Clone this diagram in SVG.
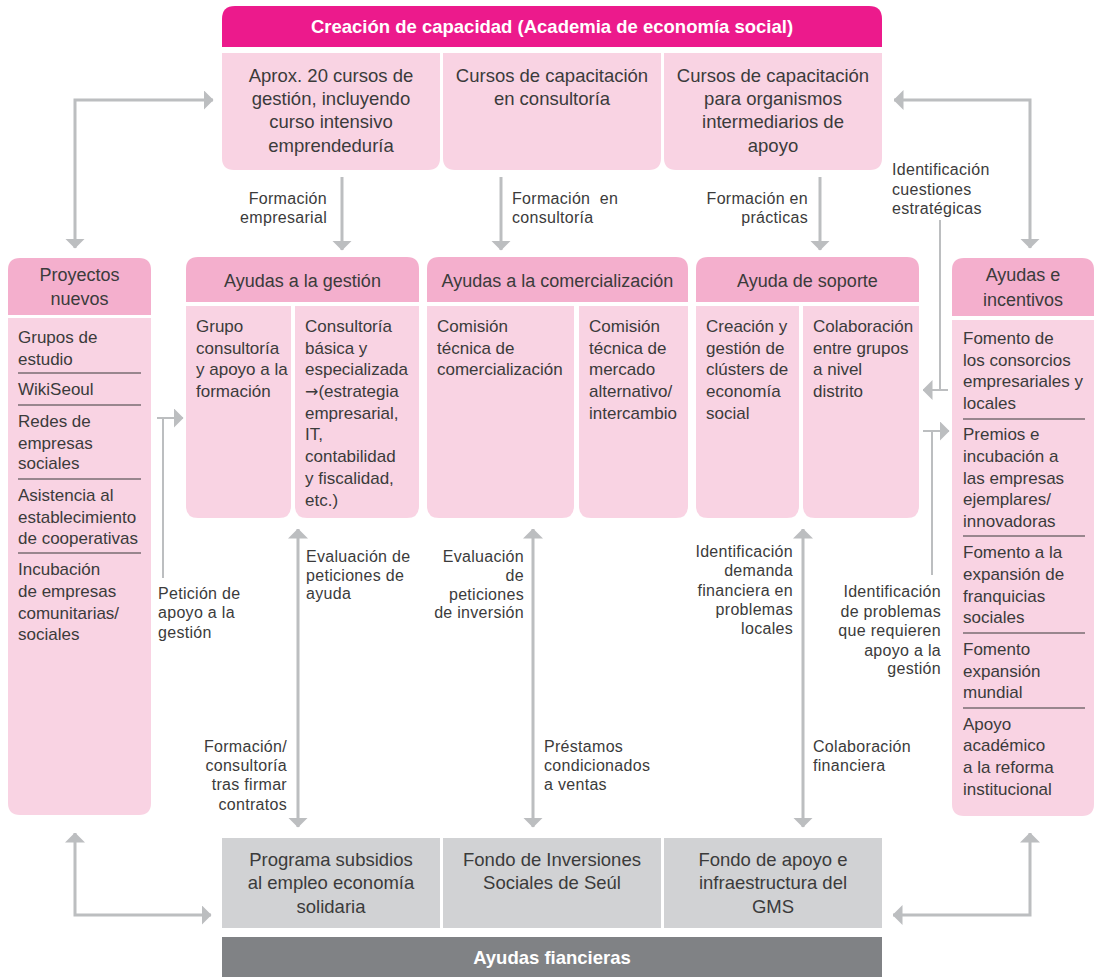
<svg xmlns="http://www.w3.org/2000/svg" width="1095" height="977" viewBox="0 0 1095 977">
<defs>
<marker id="ah" viewBox="0 0 10 20" refX="9.5" refY="10" markerWidth="10" markerHeight="20" markerUnits="userSpaceOnUse" orient="auto-start-reverse"><path d="M0,0 L10,10 L0,20 Z" fill="#BCBEC0"/></marker>
</defs>
<style>
text{font-family:"Liberation Sans",Arial,sans-serif;fill:#3b3b3b}
.t18{font-size:18.5px;text-anchor:middle}
.h18{font-size:18px;text-anchor:middle}
.t17{font-size:17px}
.lb{font-size:16px;letter-spacing:0.3px}
.r{text-anchor:end}
.hw{font-size:18.5px;font-weight:bold;fill:#fff;text-anchor:middle}
.ar{font-family:"DejaVu Sans",sans-serif;font-size:16px}
.mg{fill:#EC1A8C}
.lp{fill:#F9D3E3}
.mp{fill:#F4AFCD}
.gr{fill:#D1D2D4}
.dg{fill:#808285}
.sep{stroke:#3b3b3b;stroke-width:1.2}
.cn{fill:none;stroke:#BCBEC0;stroke-width:3}
.cn2{fill:none;stroke:#BCBEC0;stroke-width:2}
</style>

<g id="connectors">
<line class="cn" x1="342" y1="177" x2="342" y2="250" marker-end="url(#ah)"/>
<line class="cn" x1="501" y1="177" x2="501" y2="250" marker-end="url(#ah)"/>
<line class="cn" x1="820" y1="177" x2="820" y2="250" marker-end="url(#ah)"/>
<line class="cn" x1="298" y1="529" x2="298" y2="827" marker-start="url(#ah)" marker-end="url(#ah)"/>
<line class="cn" x1="533" y1="529" x2="533" y2="827" marker-start="url(#ah)" marker-end="url(#ah)"/>
<line class="cn" x1="803" y1="529" x2="803" y2="827" marker-start="url(#ah)" marker-end="url(#ah)"/>
<path class="cn" d="M213,100 H75 V248" marker-start="url(#ah)" marker-end="url(#ah)"/>
<path class="cn" d="M894,100 H1030 V248" marker-start="url(#ah)" marker-end="url(#ah)"/>
<path class="cn" d="M75,833 V915 H211" marker-start="url(#ah)" marker-end="url(#ah)"/>
<path class="cn" d="M1030,833 V915 H893" marker-start="url(#ah)" marker-end="url(#ah)"/>
<line class="cn2" x1="163" y1="578" x2="163" y2="418"/>
<line class="cn2" x1="157" y1="418" x2="183" y2="418" marker-end="url(#ah)"/>
<line class="cn2" x1="940" y1="220" x2="940" y2="390"/>
<line class="cn2" x1="948" y1="390" x2="923" y2="390" marker-end="url(#ah)"/>
<line class="cn2" x1="932" y1="575" x2="932" y2="431"/>
<line class="cn2" x1="923" y1="431" x2="949" y2="431" marker-end="url(#ah)"/>
</g>

<g id="capacity-header">
<path class="mg" d="M222,47 V19 Q222,6 235,6 H869 Q882,6 882,19 V47 Z"/>
<text class="hw" x="552" y="33">Creación de capacidad (Academia de economía social)</text>
</g>
<g id="course-management">
<path class="lp" d="M222,53 H440 V158 Q440,170 428,170 H234 Q222,170 222,158 Z"/>
<text class="t18"><tspan x="331" y="82">Aprox. 20 cursos de</tspan><tspan x="331" y="105">gestión, incluyendo</tspan><tspan x="331" y="128">curso intensivo</tspan><tspan x="331" y="152">emprendeduría</tspan></text>
</g>
<g id="course-consulting">
<path class="lp" d="M443,53 H661 V158 Q661,170 649,170 H455 Q443,170 443,158 Z"/>
<text class="t18"><tspan x="552" y="82">Cursos de capacitación</tspan><tspan x="552" y="105">en consultoría</tspan></text>
</g>
<g id="course-intermediaries">
<path class="lp" d="M664,53 H882 V158 Q882,170 870,170 H676 Q664,170 664,158 Z"/>
<text class="t18"><tspan x="773" y="82">Cursos de capacitación</tspan><tspan x="773" y="105">para organismos</tspan><tspan x="773" y="128">intermediarios de</tspan><tspan x="773" y="152">apoyo</tspan></text>
</g>

<g id="proyectos-nuevos">
<path class="mp" d="M8,315 V270 Q8,258 20,258 H139 Q151,258 151,270 V315 Z"/>
<text class="h18"><tspan x="79.5" y="281">Proyectos</tspan><tspan x="79.5" y="305">nuevos</tspan></text>
<path class="lp" d="M8,318 H151 V803 Q151,815 139,815 H20 Q8,815 8,803 Z"/>
<text class="t17"><tspan x="18" y="343">Grupos de</tspan><tspan x="18" y="365">estudio</tspan><tspan x="18" y="395">WikiSeoul</tspan><tspan x="18" y="427">Redes de</tspan><tspan x="18" y="449">empresas</tspan><tspan x="18" y="469">sociales</tspan><tspan x="18" y="501">Asistencia al</tspan><tspan x="18" y="523">establecimiento</tspan><tspan x="18" y="544">de cooperativas</tspan><tspan x="18" y="575">Incubación</tspan><tspan x="18" y="597">de empresas</tspan><tspan x="18" y="619">comunitarias/</tspan><tspan x="18" y="640">sociales</tspan></text>
<line class="sep" x1="18" y1="373" x2="141" y2="373"/>
<line class="sep" x1="18" y1="405" x2="141" y2="405"/>
<line class="sep" x1="18" y1="479" x2="141" y2="479"/>
<line class="sep" x1="18" y1="553" x2="141" y2="553"/>
</g>

<g id="ayudas-gestion">
<path class="mp" d="M186,302 V269 Q186,257 198,257 H407 Q419,257 419,269 V302 Z"/>
<text class="h18" x="302.5" y="287">Ayudas a la gestión</text>
<path class="lp" d="M186,306 H291 V506 Q291,518 279,518 H198 Q186,518 186,506 Z"/>
<path class="lp" d="M295,306 H419 V506 Q419,518 407,518 H307 Q295,518 295,506 Z"/>
<text class="t17"><tspan x="196" y="332">Grupo</tspan><tspan x="196" y="354">consultoría</tspan><tspan x="196" y="375">y apoyo a la</tspan><tspan x="196" y="397">formación</tspan></text>
<text class="t17"><tspan x="305" y="332">Consultoría</tspan><tspan x="305" y="354">básica y</tspan><tspan x="305" y="375">especializada</tspan><tspan x="305" y="397"><tspan class="ar">→</tspan>(estrategia</tspan><tspan x="305" y="419">empresarial,</tspan><tspan x="305" y="440">IT,</tspan><tspan x="305" y="462">contabilidad</tspan><tspan x="305" y="484">y fiscalidad,</tspan><tspan x="305" y="506">etc.)</tspan></text>
</g>

<g id="ayudas-comercializacion">
<path class="mp" d="M427,302 V269 Q427,257 439,257 H676 Q688,257 688,269 V302 Z"/>
<text class="h18" x="557.5" y="287">Ayudas a la comercialización</text>
<path class="lp" d="M427,306 H574 V506 Q574,518 562,518 H439 Q427,518 427,506 Z"/>
<path class="lp" d="M579,306 H688 V506 Q688,518 676,518 H591 Q579,518 579,506 Z"/>
<text class="t17"><tspan x="437" y="332">Comisión</tspan><tspan x="437" y="354">técnica de</tspan><tspan x="437" y="375">comercialización</tspan></text>
<text class="t17"><tspan x="589" y="332">Comisión</tspan><tspan x="589" y="354">técnica de</tspan><tspan x="589" y="375">mercado</tspan><tspan x="589" y="397">alternativo/</tspan><tspan x="589" y="419">intercambio</tspan></text>
</g>

<g id="ayuda-soporte">
<path class="mp" d="M696,302 V269 Q696,257 708,257 H907 Q919,257 919,269 V302 Z"/>
<text class="h18" x="807.5" y="287">Ayuda de soporte</text>
<path class="lp" d="M696,306 H799 V506 Q799,518 787,518 H708 Q696,518 696,506 Z"/>
<path class="lp" d="M803,306 H919 V506 Q919,518 907,518 H815 Q803,518 803,506 Z"/>
<text class="t17"><tspan x="706" y="332">Creación y</tspan><tspan x="706" y="354">gestión de</tspan><tspan x="706" y="375">clústers de</tspan><tspan x="706" y="397">economía</tspan><tspan x="706" y="419">social</tspan></text>
<text class="t17"><tspan x="813" y="332">Colaboración</tspan><tspan x="813" y="354">entre grupos</tspan><tspan x="813" y="375">a nivel</tspan><tspan x="813" y="397">distrito</tspan></text>
</g>

<g id="ayudas-incentivos">
<path class="mp" d="M952,316 V270 Q952,258 964,258 H1082 Q1094,258 1094,270 V316 Z"/>
<text class="h18"><tspan x="1023" y="281">Ayudas e</tspan><tspan x="1023" y="306">incentivos</tspan></text>
<path class="lp" d="M952,320 H1094 V804 Q1094,816 1082,816 H964 Q952,816 952,804 Z"/>
<text class="t17"><tspan x="963" y="344">Fomento de</tspan><tspan x="963" y="366">los consorcios</tspan><tspan x="963" y="387">empresariales y</tspan><tspan x="963" y="409">locales</tspan><tspan x="963" y="440">Premios e</tspan><tspan x="963" y="462">incubación a</tspan><tspan x="963" y="484">las empresas</tspan><tspan x="963" y="505">ejemplares/</tspan><tspan x="963" y="527">innovadoras</tspan><tspan x="963" y="558">Fomento a la</tspan><tspan x="963" y="580">expansión de</tspan><tspan x="963" y="602">franquicias</tspan><tspan x="963" y="623">sociales</tspan><tspan x="963" y="655">Fomento</tspan><tspan x="963" y="677">expansión</tspan><tspan x="963" y="698">mundial</tspan><tspan x="963" y="730">Apoyo</tspan><tspan x="963" y="751">académico</tspan><tspan x="963" y="773">a la reforma</tspan><tspan x="963" y="795">institucional</tspan></text>
<line class="sep" x1="963" y1="419" x2="1085" y2="419"/>
<line class="sep" x1="963" y1="536" x2="1085" y2="536"/>
<line class="sep" x1="963" y1="633" x2="1085" y2="633"/>
<line class="sep" x1="963" y1="708" x2="1085" y2="708"/>
</g>

<g id="fund-subsidies">
<rect class="gr" x="222" y="838" width="218" height="90"/>
<text class="t18"><tspan x="331" y="866">Programa subsidios</tspan><tspan x="331" y="889">al empleo economía</tspan><tspan x="331" y="913">solidaria</tspan></text>
</g>
<g id="fund-investment">
<rect class="gr" x="443" y="838" width="218" height="90"/>
<text class="t18"><tspan x="552" y="866">Fondo de Inversiones</tspan><tspan x="552" y="889">Sociales de Seúl</tspan></text>
</g>
<g id="fund-infrastructure">
<rect class="gr" x="664" y="838" width="218" height="90"/>
<text class="t18"><tspan x="773" y="866">Fondo de apoyo e</tspan><tspan x="773" y="889">infraestructura del</tspan><tspan x="773" y="913">GMS</tspan></text>
</g>
<g id="financial-header">
<rect class="dg" x="222" y="937" width="660" height="40"/>
<text class="hw" x="552" y="964">Ayudas fiancieras</text>
</g>

<g id="labels">
<text class="lb r"><tspan x="327" y="204">Formación</tspan><tspan x="327" y="223">empresarial</tspan></text>
<text class="lb" xml:space="preserve"><tspan x="512" y="204">Formación  en</tspan><tspan x="512" y="223">consultoría</tspan></text>
<text class="lb r"><tspan x="808" y="204">Formación en</tspan><tspan x="808" y="223">prácticas</tspan></text>
<text class="lb"><tspan x="892" y="175">Identificación</tspan><tspan x="892" y="195">cuestiones</tspan><tspan x="892" y="214">estratégicas</tspan></text>
<text class="lb"><tspan x="158" y="599">Petición de</tspan><tspan x="158" y="618">apoyo a la</tspan><tspan x="158" y="638">gestión</tspan></text>
<text class="lb"><tspan x="306" y="562">Evaluación de</tspan><tspan x="306" y="581">peticiones de</tspan><tspan x="306" y="599">ayuda</tspan></text>
<text class="lb r"><tspan x="287" y="752">Formación/</tspan><tspan x="287" y="771">consultoría</tspan><tspan x="287" y="790">tras firmar</tspan><tspan x="287" y="810">contratos</tspan></text>
<text class="lb r"><tspan x="524" y="562">Evaluación</tspan><tspan x="524" y="581">de</tspan><tspan x="524" y="600">peticiones</tspan><tspan x="524" y="618">de inversión</tspan></text>
<text class="lb"><tspan x="544" y="752">Préstamos</tspan><tspan x="544" y="771">condicionados</tspan><tspan x="544" y="790">a ventas</tspan></text>
<text class="lb r"><tspan x="793" y="557">Identificación</tspan><tspan x="793" y="576">demanda</tspan><tspan x="793" y="596">financiera en</tspan><tspan x="793" y="615">problemas</tspan><tspan x="793" y="634">locales</tspan></text>
<text class="lb"><tspan x="813" y="752">Colaboración</tspan><tspan x="813" y="771">financiera</tspan></text>
<text class="lb r"><tspan x="941" y="597">Identificación</tspan><tspan x="941" y="617">de problemas</tspan><tspan x="941" y="636">que requieren</tspan><tspan x="941" y="656">apoyo a la</tspan><tspan x="941" y="674">gestión</tspan></text>
</g>
</svg>
